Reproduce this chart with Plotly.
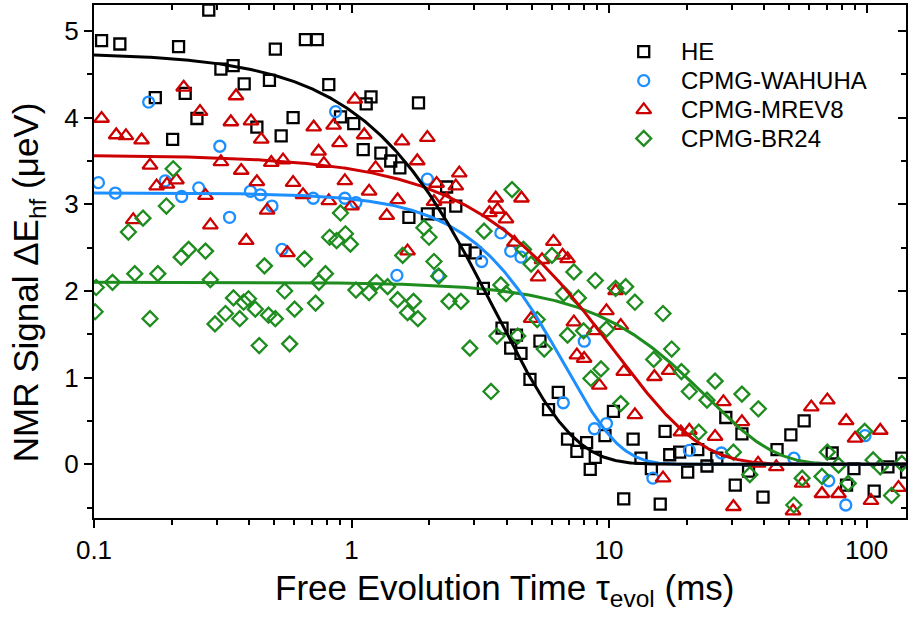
import numpy as np
import plotly.graph_objects as go

# ---- measured NMR signal (t in ms, signal in ueV) ----
he_t = [0.107, 0.126, 0.173, 0.202, 0.213, 0.226, 0.251, 0.279, 0.311, 0.347,
        0.383, 0.429, 0.480, 0.506, 0.533, 0.593, 0.662, 0.736, 0.816, 0.906,
        1.02, 1.11, 1.14, 1.19, 1.30, 1.42, 1.54, 1.67, 1.82, 1.97,
        2.19, 2.34, 2.54, 2.76, 3.02, 3.25, 3.84, 4.15, 4.37, 4.55,
        4.93, 5.39, 5.82, 6.35, 6.90, 7.50, 8.18, 8.45, 8.84, 9.64,
        10.4, 11.4, 12.4, 13.3, 14.6, 15.8, 16.5, 17.2, 18.8, 20.2,
        22.1, 24.0, 26.2, 28.4, 30.9, 32.8, 34.8, 39.6, 44.9, 50.8,
        57.2, 73.5, 83.6, 89.3, 107, 121, 137, 143]
he_s = [4.89, 4.85, 4.23, 3.75, 4.82, 4.28, 3.99, 5.24, 4.56, 4.60,
        4.39, 3.89, 4.43, 4.79, 3.79, 4.00, 4.90, 4.90, 4.38, 4.01,
        3.93, 3.63, 4.16, 4.24, 3.59, 3.50, 3.42, 2.85, 4.17, 2.89,
        2.89, 3.20, 2.98, 2.47, 2.44, 2.03, 1.57, 1.34, 1.49, 1.28,
        0.98, 1.42, 0.63, 0.83, 0.29, 0.15, 0.25, -0.06, 0.08, 0.33,
        0.61, -0.40, 0.29, 0.07, -0.05, -0.46, 0.38, 0.11, 0.14, -0.09,
        0.17, -0.02, 0.07, 0.54, -0.24, 0.35, -0.08, -0.38, 0.17, 0.34,
        0.50, 0.13, -0.24, -0.05, -0.31, -0.03, 0.07, -0.09]

wahuha_t = [0.104, 0.121, 0.163, 0.189, 0.219, 0.255, 0.308, 0.336, 0.405, 0.443,
            0.491, 0.537, 0.710, 0.867, 0.942, 1.04, 1.50, 1.97, 2.17, 3.20,
            3.80, 4.15, 4.55, 6.64, 8.01, 8.77, 9.77, 14.8, 20.5, 27.3,
            52.2, 71.3, 83.0, 98.6]
wahuha_s = [3.25, 3.13, 4.18, 3.27, 3.09, 3.19, 3.67, 2.85, 3.15, 3.11,
            2.98, 2.48, 3.07, 4.07, 3.07, 3.02, 2.18, 3.29, 2.18, 2.34,
            2.67, 2.46, 2.39, 0.71, 1.42, 0.41, 0.47, -0.16, 0.16, 0.13,
            0.07, -0.19, -0.47, 0.33]

mrev8_t = [0.107, 0.122, 0.133, 0.142, 0.153, 0.165, 0.175, 0.192, 0.209, 0.223,
           0.258, 0.271, 0.283, 0.311, 0.340, 0.356, 0.373, 0.390, 0.407, 0.429,
           0.446, 0.470, 0.488, 0.542, 0.564, 0.593, 0.648, 0.713, 0.745, 0.781,
           0.816, 0.852, 0.898, 0.942, 1.00, 1.03, 1.12, 1.17, 1.24, 1.37,
           1.51, 1.57, 1.65, 1.80, 1.97, 2.09, 2.14, 2.34, 2.54, 2.62,
           3.43, 3.63, 3.69, 3.98, 4.29, 4.57, 4.98, 5.30, 5.49, 6.08,
           6.60, 6.90, 7.30, 7.50, 8.00, 8.77, 9.16, 9.77, 10.6, 11.1,
           11.4, 12.6, 15.0, 16.2, 17.1, 19.0, 20.5, 25.8, 27.8, 30.4,
           32.8, 37.9, 44.6, 51.8, 56.2, 61.0, 67.1, 70.4, 77.8, 83.3,
           90.2, 104, 113, 133]
mrev8_s = [3.99, 3.80, 3.79, 2.82, 3.74, 3.45, 3.21, 3.23, 3.28, 4.35,
           4.07, 3.10, 2.76, 3.49, 3.95, 4.25, 3.39, 2.58, 3.96, 3.26,
           3.75, 2.93, 3.48, 3.51, 2.44, 3.25, 3.11, 3.89, 3.61, 3.47,
           3.04, 3.91, 3.71, 3.27, 2.98, 4.21, 3.80, 3.15, 3.42, 2.87,
           3.05, 3.73, 2.46, 3.50, 3.77, 3.03, 3.24, 3.06, 3.21, 3.36,
           2.90, 3.07, 2.94, 2.83, 2.56, 3.07, 1.68, 2.16, 2.36, 2.57,
           2.41, 2.37, 1.64, 1.26, 1.22, 1.54, 0.91, 1.77, 2.00, 1.60,
           1.07, 0.57, 1.01, -0.16, 1.08, 0.37, 0.39, 0.32, 0.72, -0.49,
           0.49, 0.01, -0.03, -0.54, -0.22, 0.66, -0.34, 0.74, -0.34, 0.50,
           0.30, -0.42, 0.39, -0.27]

br24_t = [0.101, 0.102, 0.118, 0.136, 0.144, 0.155, 0.165, 0.177, 0.191, 0.203,
          0.218, 0.233, 0.271, 0.283, 0.295, 0.324, 0.348, 0.368, 0.381, 0.398,
          0.423, 0.438, 0.459, 0.476, 0.506, 0.550, 0.575, 0.601, 0.657, 0.725,
          0.747, 0.792, 0.822, 0.875, 0.906, 0.947, 0.990, 1.04, 1.17, 1.25,
          1.38, 1.51, 1.58, 1.65, 1.74, 1.81, 1.91, 2.00, 2.09, 2.18,
          2.39, 2.66, 2.88, 3.27, 3.48, 3.67, 3.80, 3.98, 4.20, 4.42,
          4.65, 4.98, 5.26, 5.60, 6.00, 6.66, 6.90, 7.30, 7.60, 7.96,
          8.50, 8.84, 9.30, 9.77, 10.6, 11.1, 11.6, 12.6, 14.9, 16.2,
          17.5, 19.1, 20.5, 22.3, 24.0, 25.8, 30.4, 32.8, 35.2, 38.0,
          52.2, 56.2, 67.1, 70.4, 77.8, 84.8, 98.3, 106, 113, 125, 137]
br24_s = [1.76, 2.04, 2.10, 2.68, 2.20, 2.84, 1.68, 2.20, 2.98, 3.41,
          2.39, 2.48, 2.46, 2.13, 1.62, 1.74, 1.92, 1.68, 1.87, 1.91,
          1.79, 1.37, 2.29, 1.72, 1.68, 2.00, 1.39, 1.79, 2.37, 1.86,
          2.10, 2.20, 2.62, 2.58, 2.90, 2.66, 2.54, 2.01, 1.98, 2.10,
          2.05, 1.90, 2.41, 1.75, 1.88, 1.68, 2.73, 2.62, 2.34, 2.17,
          1.88, 1.88, 1.34, 2.69, 0.84, 1.48, 2.07, 1.97, 3.17, 1.48,
          2.48, 2.31, 1.67, 1.33, 2.41, 1.97, 1.49, 2.22, 1.92, 1.54,
          0.99, 2.12, 1.10, 1.56, 2.03, 0.70, 2.05, 1.87, 1.21, 1.74,
          1.33, 1.07, 0.84, 0.37, 0.74, 0.96, 0.14, 0.81, -0.12, 0.64,
          -0.47, -0.16, -0.14, 0.14, -0.01, -0.22, 0.38, 0.05, -0.03, -0.36, 0.01]

series_names = ["HE", "CPMG-WAHUHA", "CPMG-MREV8", "CPMG-BR24"]

# stretched-exponential fit parameters: amplitude, decay time (ms), exponent
fit_amp = [4.75, 3.13, 3.57, 2.10]
fit_tau = [3.64, 6.70, 10.46, 24.0]
fit_exp = [1.45, 2.0, 1.30, 1.65]

colors = ["#000000", "#1E8FFF", "#CC0000", "#1E8C1E"]
symbols = ["square-open", "circle-open", "triangle-up-open", "diamond-open"]
sizes = [11, 11, 13, 11.5]
MLW = 2.3

FONT = "Arial, Liberation Sans, sans-serif"

data_t = [he_t, wahuha_t, mrev8_t, br24_t]
data_s = [he_s, wahuha_s, mrev8_s, br24_s]

fig = go.Figure()

# scatter points
for i in range(4):
    fig.add_trace(go.Scatter(
        x=data_t[i], y=data_s[i], mode="markers", showlegend=False,
        marker=dict(symbol=symbols[i], size=sizes[i], color=colors[i],
                    line=dict(width=MLW, color=colors[i]))))

# fit curves (black drawn last so it sits on top along the baseline)
t_fit = np.logspace(-1, 2.2, 600)
for i in [3, 2, 1, 0]:
    s_fit = fit_amp[i] * np.exp(-(t_fit / fit_tau[i]) ** fit_exp[i])
    fig.add_trace(go.Scatter(x=t_fit, y=s_fit, mode="lines", showlegend=False,
                             line=dict(color=colors[i], width=3)))

# companion axes for the inward ticks on top and right
fig.add_trace(go.Scatter(x=[None], y=[None], xaxis="x2", yaxis="y2",
                         showlegend=False, hoverinfo="skip"))

# key: symbols on a unit overlay axis, labels as annotations
key_x_sym = 0.677
key_x_txt = 0.721
key_y = [0.909, 0.8525, 0.7955, 0.740]
for i in range(4):
    fig.add_trace(go.Scatter(
        x=[key_x_sym], y=[key_y[i]], xaxis="x3", yaxis="y3", mode="markers",
        showlegend=False, hoverinfo="skip", cliponaxis=False,
        marker=dict(symbol=symbols[i], size=sizes[i], color=colors[i],
                    line=dict(width=MLW, color=colors[i]))))
    fig.add_annotation(text=series_names[i], xref="paper", yref="paper",
                       x=key_x_txt, y=key_y[i], xanchor="left", yanchor="middle",
                       showarrow=False,
                       font=dict(size=24, family=FONT, color="black"))

XR = [-1, 2.153]
YR = [-0.62, 5.30]

minor_x = [m * 10.0 ** d for d in (-1, 0, 1, 2) for m in range(2, 10)]
minor_y = [v / 2 for v in range(-1, 11) if v % 2]

fig.update_layout(
    width=909, height=618,
    margin=dict(l=94, r=1, t=5, b=100),
    paper_bgcolor="white", plot_bgcolor="white",
    font=dict(family=FONT, color="black"),
    showlegend=False,
    xaxis=dict(type="log", range=XR, showgrid=False, zeroline=False,
               showline=True, linecolor="black", linewidth=2, mirror=True,
               ticks="outside", ticklen=8, tickwidth=1.5, tickcolor="black",
               tickvals=[0.1, 1, 10, 100], ticktext=["0.1", "1", "10", "100"],
               tickfont=dict(size=26, family=FONT),
               minor=dict(tickvals=minor_x, ticks="outside", ticklen=5,
                          tickwidth=1.5, tickcolor="black", showgrid=False)),
    yaxis=dict(range=YR, showgrid=False, zeroline=False,
               showline=True, linecolor="black", linewidth=2, mirror=True,
               ticks="outside", ticklen=8, tickwidth=1.5, tickcolor="black",
               tickvals=[0, 1, 2, 3, 4, 5],
               tickfont=dict(size=26, family=FONT),
               minor=dict(tickvals=minor_y, ticks="outside", ticklen=5,
                          tickwidth=1.5, tickcolor="black", showgrid=False)),
    xaxis2=dict(type="log", range=XR, overlaying="x", side="top",
                showgrid=False, zeroline=False, showticklabels=False,
                ticks="inside", ticklen=8, tickwidth=1.5, tickcolor="black",
                tickvals=[0.1, 1, 10, 100],
                minor=dict(tickvals=minor_x, ticks="inside", ticklen=5,
                           tickwidth=1.5, tickcolor="black", showgrid=False)),
    yaxis2=dict(range=YR, overlaying="y", side="right",
                showgrid=False, zeroline=False, showticklabels=False,
                ticks="inside", ticklen=8, tickwidth=1.5, tickcolor="black",
                tickvals=[0, 1, 2, 3, 4, 5],
                minor=dict(tickvals=minor_y, ticks="inside", ticklen=5,
                           tickwidth=1.5, tickcolor="black", showgrid=False)),
    xaxis3=dict(range=[0, 1], overlaying="x", visible=False, fixedrange=True),
    yaxis3=dict(range=[0, 1], overlaying="y", visible=False, fixedrange=True),
)

# axis titles
fig.add_annotation(
    text="Free Evolution Time \u03c4<sub>evol</sub> (ms)",
    xref="paper", yref="paper", x=0.506, y=-0.140,
    xanchor="center", yanchor="middle", showarrow=False,
    font=dict(size=35, family=FONT, color="black"))
fig.add_annotation(
    text="NMR Signal \u0394E<sub>hf</sub> (\u03bceV)",
    xref="paper", yref="paper", x=-0.081, y=0.46,
    xanchor="center", yanchor="middle", showarrow=False, textangle=-90,
    font=dict(size=35, family=FONT, color="black"))

fig.write_html("out.html")
